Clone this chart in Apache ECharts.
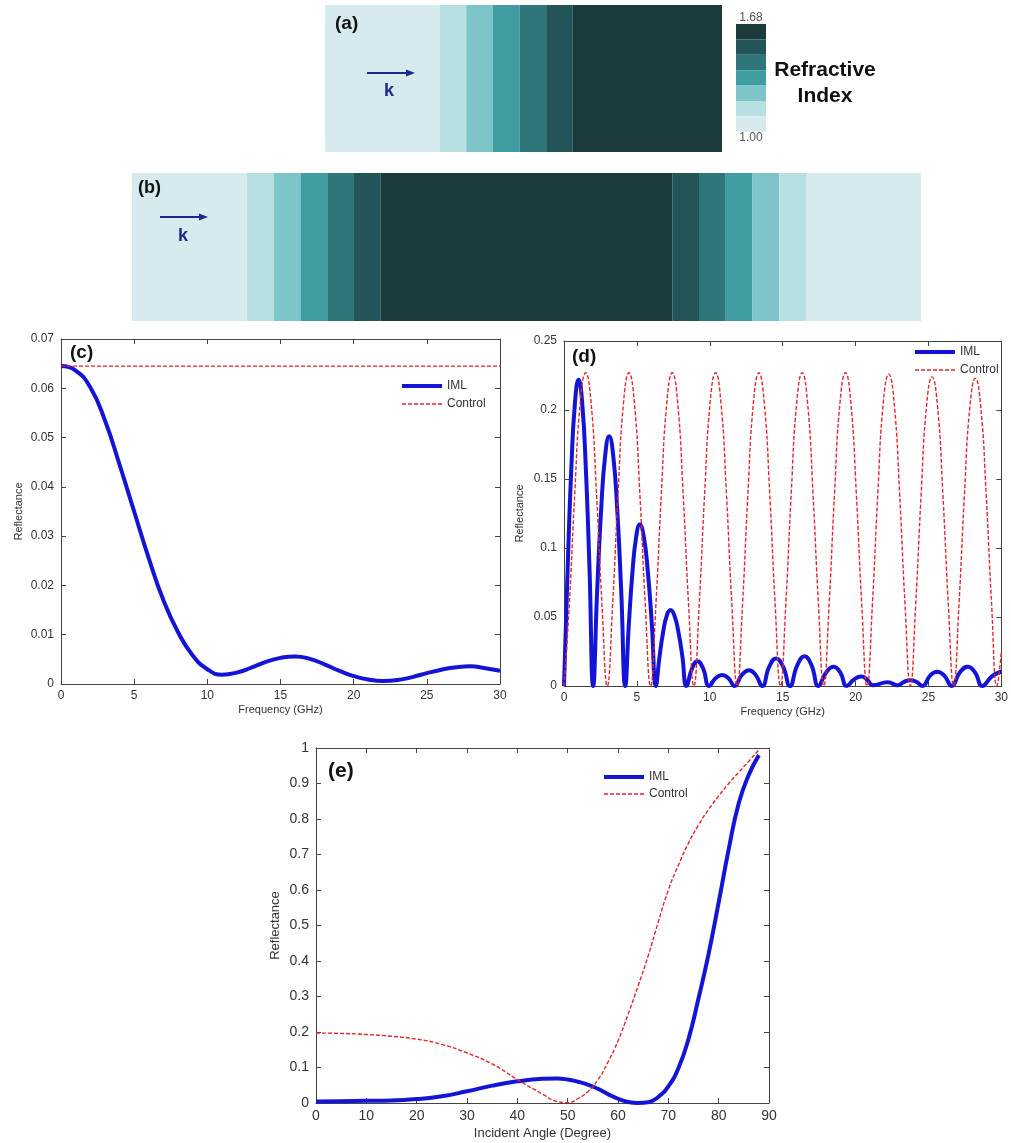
<!DOCTYPE html>
<html lang="en">
<head>
<meta charset="UTF-8">
<title>Graded index layer - reflectance</title>
<script src="https://cdn.jsdelivr.net/npm/echarts@6/dist/echarts.min.js"></script>
<style>
  html, body { margin: 0; padding: 0; background: #fff; }
  #main { width: 1011px; height: 1143px; }
</style>
</head>
<body>
<div id="main"></div>
<script>
// refractive index steps and their colours (colour bar)
var levels = [1.00, 1.11, 1.23, 1.34, 1.45, 1.57, 1.68];
var levelColors = ['#d7ebee', '#b8dfe2', '#7dc5c8', '#3f9da1', '#2e7679', '#235457', '#1b3a3c'];

// (a) graded layer on one side, thickness in units of one step
var layersAThick = [4.3, 1, 1, 1, 1, 1, 5.6];
var layersAIndex = [1.00, 1.11, 1.23, 1.34, 1.45, 1.57, 1.68];
// (b) slab graded on both sides
var layersBThick = [4.3, 1, 1, 1, 1, 1, 10.9, 1, 1, 1, 1, 1, 4.3];
var layersBIndex = [1.00, 1.11, 1.23, 1.34, 1.45, 1.57, 1.68, 1.57, 1.45, 1.34, 1.23, 1.11, 1.00];

// (c) reflectance vs frequency, half space
var freqC = [0, 1, 2, 3, 4, 5, 6, 7, 8, 9, 10, 11, 12, 13, 14, 15, 16, 17, 18, 19, 20, 21, 22, 23, 24, 25, 26, 27, 28, 29, 30];
var imlC = [0.0645, 0.0636, 0.0602, 0.0535, 0.0445, 0.0350, 0.0255, 0.0170, 0.0105, 0.0058, 0.0030,
            0.0019, 0.0023, 0.0033, 0.0045, 0.0053, 0.0056, 0.0051, 0.0040, 0.0027, 0.0016,
            0.0009, 0.0006, 0.0008, 0.0014, 0.0022, 0.0029, 0.0034, 0.0036, 0.0032, 0.0027];
var ctrlCFreq = [0, 30];
var ctrlC = [0.0645, 0.0645];

// (d) reflectance vs frequency, slab
var imlDFreq = [0, 0.25, 0.5, 0.75, 1.0, 1.25, 1.5, 1.75,
                2.0, 2.275, 2.55, 2.825, 3.1, 3.375, 3.65, 3.925,
                4.2, 4.45, 4.7, 4.95, 5.2, 5.475, 5.75, 6.025,
                6.3, 6.55, 6.8, 7.05, 7.3, 7.575, 7.85, 8.125,
                8.4, 8.78, 9.15, 9.55, 9.95, 10.4, 10.85, 11.28, 11.7, 12.2, 12.7, 13.15,
                13.6, 14.08, 14.55, 15.03, 15.5, 16.0, 16.5, 16.98, 17.45, 17.98, 18.5, 18.95,
                19.4, 19.9, 20.4, 20.8, 21.2, 22.2, 22.9, 23.33, 23.75, 24.18,
                24.6, 25.1, 25.6, 26.1, 26.6, 27.15, 27.7, 28.2, 28.7, 29.35, 30];
var imlD = [0, 0.085, 0.157, 0.205, 0.222, 0.205, 0.157, 0.085,
            0, 0.069, 0.128, 0.167, 0.181, 0.167, 0.128, 0.069,
            0, 0.045, 0.083, 0.108, 0.117, 0.108, 0.083, 0.045,
            0, 0.021, 0.039, 0.051, 0.055, 0.051, 0.039, 0.021,
            0, 0.0125, 0.018, 0.0125, 0, 0.0056, 0.008, 0.0056, 0, 0.008, 0.0115, 0.008,
            0, 0.014, 0.020, 0.014, 0, 0.015, 0.0215, 0.015, 0, 0.0098, 0.014, 0.0098,
            0, 0.0048, 0.0068, 0.0045, 0.0005, 0.0028, 0.0005, 0.003, 0.0042, 0.003,
            0, 0.0073, 0.0104, 0.0073, 0, 0.0098, 0.014, 0.0098, 0, 0.007, 0.0105];
var ctrlDFreq = [0, 0.37, 0.74, 1.11, 1.49, 1.86, 2.23, 2.60,
                 2.97, 3.34, 3.71, 4.08, 4.46, 4.83, 5.20, 5.57,
                 5.94, 6.31, 6.68, 7.05, 7.43, 7.80, 8.17, 8.54,
                 8.91, 9.28, 9.65, 10.02, 10.40, 10.77, 11.14, 11.51,
                 11.88, 12.25, 12.62, 12.99, 13.37, 13.74, 14.11, 14.48,
                 14.85, 15.22, 15.59, 15.96, 16.34, 16.71, 17.08, 17.45,
                 17.82, 18.19, 18.56, 18.93, 19.31, 19.68, 20.05, 20.42,
                 20.79, 21.16, 21.53, 21.90, 22.28, 22.65, 23.02, 23.39,
                 23.76, 24.13, 24.50, 24.87, 25.25, 25.62, 25.99, 26.36,
                 26.73, 27.10, 27.47, 27.84, 28.22, 28.59, 28.96, 29.33,
                 29.70, 30];
var ctrlD = [0, 0.06, 0.14, 0.205, 0.227, 0.205, 0.14, 0.06,
             0, 0.06, 0.14, 0.205, 0.227, 0.205, 0.14, 0.06,
             0, 0.06, 0.14, 0.205, 0.227, 0.205, 0.14, 0.06,
             0, 0.06, 0.14, 0.205, 0.227, 0.205, 0.14, 0.06,
             0, 0.06, 0.14, 0.205, 0.227, 0.205, 0.14, 0.06,
             0, 0.06, 0.14, 0.205, 0.227, 0.205, 0.14, 0.06,
             0, 0.06, 0.14, 0.205, 0.227, 0.205, 0.14, 0.06,
             0, 0.06, 0.14, 0.205, 0.226, 0.205, 0.14, 0.06,
             0, 0.06, 0.139, 0.203, 0.224, 0.203, 0.139, 0.06,
             0, 0.06, 0.139, 0.202, 0.223, 0.202, 0.139, 0.06,
             0, 0.025];

// (e) reflectance vs incident angle
var angleE = [0, 5, 10, 15, 20, 25, 30, 35, 40, 45, 48, 50, 52, 54, 56, 58, 60, 62, 64, 66, 68, 70, 72, 74, 76, 78, 80, 82, 84, 86, 88];
var imlE = [0.004, 0.005, 0.006, 0.007, 0.011, 0.019, 0.033, 0.049, 0.061, 0.068, 0.069, 0.066, 0.060, 0.052, 0.040,
            0.025, 0.012, 0.003, 0.0, 0.002, 0.017, 0.047, 0.098, 0.18, 0.295, 0.42, 0.565, 0.715, 0.845, 0.925, 0.98];
var ctrlE = [0.197, 0.196, 0.193, 0.188, 0.180, 0.165, 0.141, 0.110, 0.066, 0.025, 0.004, 0.001, 0.012, 0.032, 0.065,
             0.115, 0.175, 0.25, 0.33, 0.415, 0.51, 0.60, 0.67, 0.732, 0.783, 0.827, 0.865, 0.9, 0.932, 0.963, 0.995];

var FONT = '"Liberation Sans", Arial, sans-serif';
var BLUE = '#1414d6';
var RED = '#e2262b';
var NAVY = '#1c2a8c';

function buildLayers(thick, idx) {
  var out = [], x = 0;
  for (var i = 0; i < thick.length; i++) {
    out.push([x, x + thick[i], idx[i]]);
    x += thick[i];
  }
  return out;
}
function sum(a) { return a.reduce(function (s, v) { return s + v; }, 0); }
function pairs(xs, ys) { return xs.map(function (x, i) { return [x, ys[i]]; }); }

function renderLayer(params, api) {
  var p0 = api.coord([api.value(0), 1]);
  var p1 = api.coord([api.value(1), 0]);
  return {
    type: 'rect',
    shape: { x: p0[0], y: p0[1], width: p1[0] - p0[0], height: p1[1] - p0[1] },
    style: { fill: api.visual('color') }
  };
}

// matlab-like box: ticks inside on all four sides
function boxX(grid, min, max, interval, fs, name, gap, nfs) {
  var base = {
    gridIndex: grid, type: 'value', min: min, max: max, interval: interval,
    axisLine: { onZero: false, lineStyle: { color: '#444', width: 1 } },
    axisTick: { inside: true, length: 5, lineStyle: { color: '#444' } },
    splitLine: { show: false }
  };
  var bottom = Object.assign({}, base, {
    position: 'bottom',
    axisLabel: { color: '#333', fontSize: fs, fontFamily: FONT, margin: 6 },
    name: name, nameLocation: 'middle', nameGap: gap,
    nameTextStyle: { color: '#333', fontSize: nfs, fontFamily: FONT }
  });
  var top = Object.assign({}, base, { position: 'top', axisLabel: { show: false } });
  return [bottom, top];
}
function boxY(grid, min, max, interval, fs, name, gap, nfs) {
  var base = {
    gridIndex: grid, type: 'value', min: min, max: max, interval: interval,
    axisLine: { onZero: false, lineStyle: { color: '#444', width: 1 } },
    axisTick: { inside: true, length: 5, lineStyle: { color: '#444' } },
    splitLine: { show: false }
  };
  var left = Object.assign({}, base, {
    position: 'left',
    axisLabel: { color: '#333', fontSize: fs, fontFamily: FONT, margin: 7 },
    name: name, nameLocation: 'middle', nameGap: gap,
    nameTextStyle: { color: '#333', fontSize: nfs, fontFamily: FONT }
  });
  var right = Object.assign({}, base, { position: 'right', axisLabel: { show: false } });
  return [left, right];
}
function hiddenAxis(grid, max) {
  return { gridIndex: grid, type: 'value', min: 0, max: max, show: false };
}

function imlSeries(axis, data) {
  return {
    type: 'line', name: 'IML', xAxisIndex: axis, yAxisIndex: axis, data: data,
    smooth: true, symbol: 'none', clip: false, z: 3,
    lineStyle: { color: BLUE, width: 4 }, itemStyle: { color: BLUE }
  };
}
function ctrlSeries(axis, data, smooth) {
  return {
    type: 'line', name: 'Control', xAxisIndex: axis, yAxisIndex: axis, data: data,
    smooth: smooth, symbol: 'none', clip: false, z: 4,
    lineStyle: { color: RED, width: 1.4, type: [4, 2] }, itemStyle: { color: RED }
  };
}
function legendAt(left, top, gap) {
  return {
    left: left, top: top, orient: 'vertical', itemWidth: 40, itemHeight: 14, itemGap: gap,
    selectedMode: false,
    itemStyle: { color: 'transparent', borderColor: 'transparent', borderWidth: 0 },
    data: [
      { name: 'IML', lineStyle: { width: 4, color: BLUE } },
      { name: 'Control', lineStyle: { width: 1.4, color: RED, type: [4, 2] } }
    ],
    textStyle: { color: '#333', fontSize: 12, fontFamily: FONT }
  };
}
function arrow(x, y, len) {
  return {
    type: 'group', z: 100, children: [
      { type: 'line', z: 100, shape: { x1: x, y1: y, x2: x + len - 6, y2: y }, style: { stroke: NAVY, lineWidth: 2 } },
      { type: 'polygon', z: 100, shape: { points: [[x + len, y], [x + len - 9, y - 3.5], [x + len - 9, y + 3.5]] }, style: { fill: NAVY } }
    ]
  };
}
function label(text, left, top, size, color) {
  return {
    type: 'text', left: left, top: top, z: 100,
    style: { text: text, fill: color || '#111', font: 'bold ' + size + 'px ' + FONT }
  };
}
function centred(text, x, y, size) {
  return {
    type: 'text', x: x, y: y, z: 100,
    style: { text: text, fill: '#111', textAlign: 'center', textVerticalAlign: 'middle', font: 'bold ' + size + 'px ' + FONT }
  };
}

var chart = echarts.init(document.getElementById('main'));

var xc = boxX(2, 0, 30, 5, 12, 'Frequency (GHz)', 20, 11);
var yc = boxY(2, 0, 0.07, 0.01, 12, 'Reflectance', 37, 11);
var xd = boxX(3, 0, 30, 5, 12, 'Frequency (GHz)', 20, 11);
var yd = boxY(3, 0, 0.25, 0.05, 12, 'Reflectance', 39, 11);
var xe = boxX(4, 0, 90, 10, 14, 'Incident Angle (Degree)', 24, 13);
var ye = boxY(4, 0, 1, 0.1, 14, 'Reflectance', 34, 13);

chart.setOption({
  animation: false,
  backgroundColor: '#fff',
  grid: [
    { left: 325, top: 5, width: 397, height: 147 },
    { left: 132, top: 173, width: 789, height: 148 },
    { left: 61, top: 339, width: 439, height: 345 },
    { left: 564, top: 341, width: 440, height: 345 },
    { left: 316, top: 748, width: 453, height: 355 }
  ],
  xAxis: [hiddenAxis(0, sum(layersAThick)), hiddenAxis(1, sum(layersBThick)),
          xc[0], xc[1], xd[0], xd[1], xe[0], xe[1]],
  yAxis: [hiddenAxis(0, 1), hiddenAxis(1, 1),
          yc[0], yc[1], yd[0], yd[1], ye[0], ye[1]],
  visualMap: {
    type: 'piecewise',
    seriesIndex: [0, 1],
    dimension: 2,
    pieces: levels.map(function (v, i) { return { value: v, color: levelColors[i] }; }),
    orient: 'vertical',
    left: 721, top: -3,
    itemWidth: 30, itemHeight: 15.4, itemGap: 0,
    itemSymbol: 'rect',
    showLabel: false,
    selectedMode: false,
    text: ['1.68', '1.00'],
    textGap: 4,
    textStyle: { color: '#555', fontSize: 12, fontFamily: FONT }
  },
  legend: [legendAt(395, 375, 6), legendAt(908, 341, 6), legendAt(597, 766, 5)],
  graphic: [
    label('(a)', 335, 14, 19),
    label('(b)', 138, 179, 18),
    label('(c)', 70, 343, 19),
    label('(d)', 572, 347, 19),
    label('(e)', 328, 761, 21),
    arrow(367, 73, 48),
    label('k', 384, 82, 18, NAVY),
    arrow(160, 217, 48),
    label('k', 178, 227, 18, NAVY),
    centred('Refractive', 825, 70, 21),
    centred('Index', 825, 96, 21)
  ],
  series: [
    { type: 'custom', xAxisIndex: 0, yAxisIndex: 0, renderItem: renderLayer,
      encode: { x: [0, 1] }, data: buildLayers(layersAThick, layersAIndex) },
    { type: 'custom', xAxisIndex: 1, yAxisIndex: 1, renderItem: renderLayer,
      encode: { x: [0, 1] }, data: buildLayers(layersBThick, layersBIndex) },
    imlSeries(2, pairs(freqC, imlC)),
    ctrlSeries(2, pairs(ctrlCFreq, ctrlC), false),
    imlSeries(4, pairs(imlDFreq, imlD)),
    ctrlSeries(4, pairs(ctrlDFreq, ctrlD), true),
    imlSeries(6, pairs(angleE, imlE)),
    ctrlSeries(6, pairs(angleE, ctrlE), true)
  ]
});
</script>
</body>
</html>
